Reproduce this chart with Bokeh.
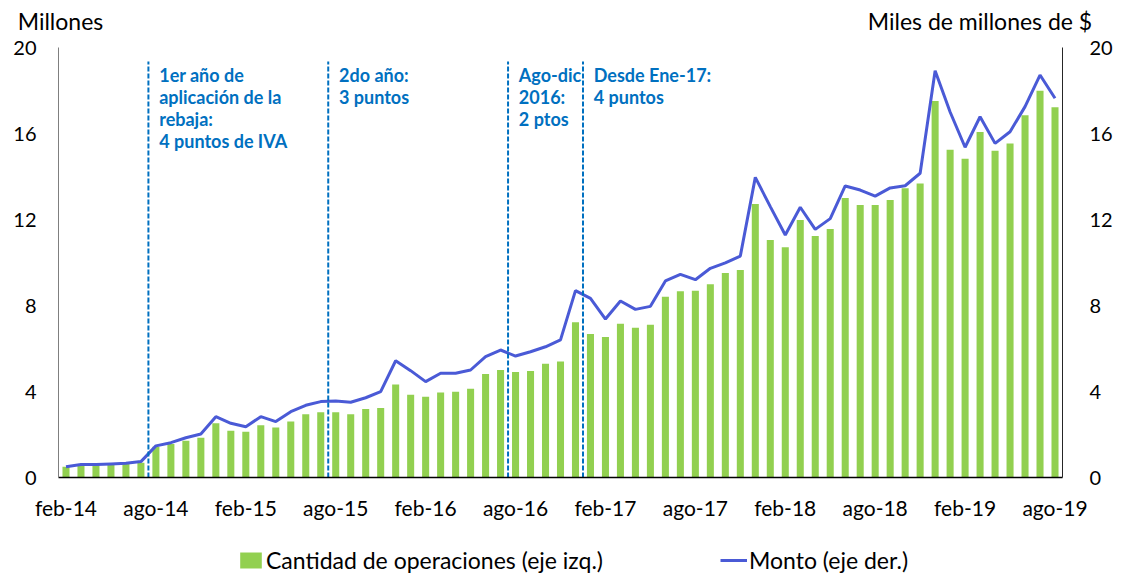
from bokeh.plotting import figure
from bokeh.layouts import column
from bokeh.models import (Range1d, LinearAxis, FixedTicker, Label, Legend,
                          LegendItem, ColumnDataSource)
from bokeh.embed import file_html
from bokeh.resources import INLINE

# ---------------- data ----------------
months = ["feb-14", "mar-14", "abr-14", "may-14", "jun-14", "jul-14", "ago-14", "sep-14",
          "oct-14", "nov-14", "dic-14", "ene-15", "feb-15", "mar-15", "abr-15", "may-15",
          "jun-15", "jul-15", "ago-15", "sep-15", "oct-15", "nov-15", "dic-15", "ene-16",
          "feb-16", "mar-16", "abr-16", "may-16", "jun-16", "jul-16", "ago-16", "sep-16",
          "oct-16", "nov-16", "dic-16", "ene-17", "feb-17", "mar-17", "abr-17", "may-17",
          "jun-17", "jul-17", "ago-17", "sep-17", "oct-17", "nov-17", "dic-17", "ene-18",
          "feb-18", "mar-18", "abr-18", "may-18", "jun-18", "jul-18", "ago-18", "sep-18",
          "oct-18", "nov-18", "dic-18", "ene-19", "feb-19", "mar-19", "abr-19", "may-19",
          "jun-19", "jul-19", "ago-19"]

cantidad = [0.50, 0.58, 0.58, 0.61, 0.63, 0.69,
            1.43, 1.56, 1.71, 1.85, 2.52, 2.18, 2.13, 2.43, 2.33, 2.61, 2.94, 3.03, 3.03, 2.94,
            3.19, 3.23, 4.33, 3.85, 3.76, 3.95, 3.99, 4.13, 4.81, 5.00, 4.91, 4.95, 5.29, 5.39,
            7.22, 6.67, 6.53, 7.15, 6.97, 7.10,
            8.41, 8.66, 8.69, 8.99, 9.51, 9.65, 12.72, 11.05, 10.71, 11.98, 11.23, 11.56,
            13.00, 12.67, 12.67, 12.91, 13.45, 13.67, 17.51, 15.25, 14.83, 16.07, 15.20,
            15.54, 16.85, 17.99, 17.22]

monto = [0.50, 0.60, 0.60, 0.63, 0.66, 0.74,
         1.47, 1.62, 1.85, 2.02, 2.83, 2.52, 2.36, 2.83, 2.60, 3.06, 3.36, 3.53, 3.56, 3.50,
         3.71, 3.99, 5.43, 4.97, 4.46, 4.85, 4.85, 5.00, 5.62, 5.93, 5.65, 5.85, 6.08, 6.40,
         8.69, 8.33, 7.37, 8.21, 7.82, 7.96,
         9.14, 9.45, 9.20, 9.73, 9.98, 10.30, 13.96, 12.60, 11.28, 12.57, 11.54, 12.04,
         13.56, 13.37, 13.09, 13.47, 13.57, 14.15, 18.92, 17.00, 15.36, 16.78, 15.54,
         16.08, 17.25, 18.72, 17.64]

tick_labels = ["feb-14", "ago-14", "feb-15", "ago-15", "feb-16", "ago-16",
               "feb-17", "ago-17", "feb-18", "ago-18", "feb-19", "ago-19"]
y_ticks = [0, 4, 8, 12, 16, 20]

# events: boundaries between months (index of month before + 0.5)
event_pos = [5.5, 17.5, 29.5, 34.5]
event_text = ["1er año de\naplicación de la\nrebaja:\n4 puntos de IVA",
              "2do año:\n3 puntos",
              "Ago-dic\n2016:\n2 ptos",
              "Desde Ene-17:\n4 puntos"]

left_title = "Millones"
right_title = "Miles de millones de $"
legend_labels = ["Cantidad de operaciones (eje izq.)", "Monto (eje der.)"]

# ---------------- styling ----------------
FONT = "Lato"
BAR_COLOR = "#92D050"
LINE_COLOR = "#4A5AD6"
ANN_COLOR = "#0070C0"
W = 1115

x = list(range(len(months)))
src = ColumnDataSource(dict(x=x, month=months, cantidad=cantidad, monto=monto))

# ---------------- main chart ----------------
p = figure(width=W, height=527, output_backend="svg", toolbar_location=None,
           x_range=Range1d(-0.5, len(months) - 0.5), y_range=Range1d(0, 20),
           min_border_left=58, min_border_right=47, min_border_top=47,
           min_border_bottom=50, y_axis_location=None)
p.extra_y_ranges = {"right": Range1d(0, 20)}
p.extra_x_ranges = {"titles": Range1d(-2, 1008)}
p.outline_line_color = None
p.xgrid.visible = False
p.ygrid.visible = False
p.background_fill_color = "white"
p.border_fill_color = "white"

bars = p.vbar(x="x", top="cantidad", width=0.47, fill_color=BAR_COLOR,
              line_color=None, source=src)
line = p.line(x="x", y="monto", line_width=3, line_color=LINE_COLOR,
              y_range_name="right", source=src)

# event lines
p.segment(x0=event_pos, y0=[0] * len(event_pos), x1=event_pos,
          y1=[19.35] * len(event_pos), line_color=ANN_COLOR, line_width=2,
          line_dash="5 2")

for pos, txt in zip(event_pos, event_text):
    p.add_layout(Label(x=pos + 0.72, y=19.25, text=txt, text_font=FONT,
                       text_font_size="18px", text_font_style="bold",
                       text_color=ANN_COLOR, text_baseline="top",
                       text_line_height=1.0))

# x axis
xa = p.xaxis[0]
xa.ticker = FixedTicker(ticks=[months.index(t) for t in tick_labels])
xa.major_label_overrides = {months.index(t): t for t in tick_labels}
xa.major_tick_in = 0
xa.major_tick_out = 0
xa.minor_tick_line_color = None
xa.axis_line_color = "black"
xa.axis_line_width = 1.5
xa.major_label_standoff = 17
xa.major_label_text_font = FONT
xa.major_label_text_font_size = "21px"
xa.major_label_text_color = "black"

# y axes
ya_left = LinearAxis(ticker=FixedTicker(ticks=y_ticks))
ya_right = LinearAxis(y_range_name="right", ticker=FixedTicker(ticks=y_ticks))
for ax, col, so in ((ya_left, "#7f7f7f", 22), (ya_right, "#262626", 27)):
    ax.major_tick_in = 0
    ax.major_tick_out = 0
    ax.minor_tick_line_color = None
    ax.axis_line_color = col
    ax.axis_line_width = 1
    ax.major_label_standoff = so
    ax.major_label_text_font = FONT
    ax.major_label_text_font_size = "20px"
    ax.major_label_text_color = "black"
p.add_layout(ya_left, "left")
p.add_layout(ya_right, "right")

# axis titles as a label-only axis above the plot
ta = LinearAxis(x_range_name="titles", ticker=FixedTicker(ticks=[0, 925]),
                major_label_overrides={0: left_title, 925: right_title})
ta.axis_line_color = None
ta.major_tick_in = 0
ta.major_tick_out = 0
ta.minor_tick_line_color = None
ta.major_label_standoff = 13
ta.major_label_text_font = FONT
ta.major_label_text_font_size = "23px"
ta.major_label_text_color = "black"
p.add_layout(ta, "above")

# ---------------- legend strip ----------------
# same series, drawn off-range (only their legend swatches show)
bot = figure(width=W, height=48, output_backend="svg", toolbar_location=None,
             x_range=Range1d(-0.5, len(months) - 0.5), y_range=Range1d(100, 148),
             min_border_left=58, min_border_right=47, min_border_top=0,
             min_border_bottom=0, x_axis_location=None, y_axis_location=None)
bot.outline_line_color = None
bot.xgrid.visible = False
bot.ygrid.visible = False
bot.background_fill_color = "white"
bot.border_fill_color = "white"
lb = bot.vbar(x="x", top="cantidad", width=0.47, fill_color=BAR_COLOR,
              line_color=None, source=src)
ll = bot.line(x="x", y="monto", line_width=3, line_color=LINE_COLOR, source=src)

legend = Legend(items=[LegendItem(label=legend_labels[0], renderers=[lb]),
                       LegendItem(label=legend_labels[1], renderers=[ll])],
                orientation="horizontal", location=(179, 1),
                spacing=117, glyph_width=27, glyph_height=20, label_standoff=2,
                padding=0, margin=0, border_line_color=None,
                background_fill_alpha=0, label_text_font=FONT,
                label_text_font_size="23px", label_text_color="black")
bot.add_layout(legend, "center")

layout = column(p, bot, spacing=0)
open("out.html", "w").write(file_html(layout, INLINE))
